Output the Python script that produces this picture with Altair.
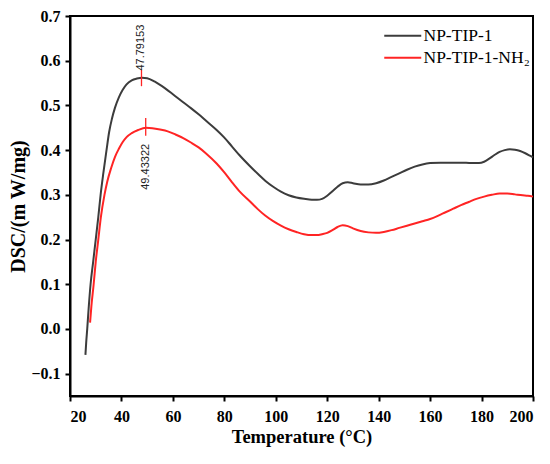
import altair as alt
import pandas as pd

# ---- data ----
t_a = [26.0, 26.3, 26.7, 27.3, 28.0, 29.0, 30.0, 31.0, 31.9, 33.0, 34.2, 35.2, 36.3, 37.5, 39.0, 40.5,
       42.0, 44.0, 46.0, 48.0, 50.0, 53.0, 57.0, 60.0, 64.0, 67.0, 70.0, 73.0, 77.0, 80.0, 83.0, 86.0,
       90.0, 93.0, 96.0, 99.0, 102.0, 105.0, 108.0, 111.0, 114.0, 116.0, 118.0, 120.0, 122.0, 124.0,
       126.0, 128.0, 130.0, 133.0, 136.0, 139.0, 142.0, 145.0, 148.0, 151.0, 154.0, 157.0, 160.0, 164.0,
       168.0, 172.0, 176.0, 179.0, 181.0, 183.0, 185.0, 187.0, 189.0, 191.0, 193.0, 195.0, 197.0, 199.0, 200.0]
v_a = [-0.058, -0.03, 0.0, 0.05, 0.10, 0.15, 0.20, 0.25, 0.30, 0.35, 0.40, 0.44, 0.47, 0.495, 0.518, 0.535,
       0.547, 0.556, 0.560, 0.562, 0.561, 0.553, 0.538, 0.525, 0.507, 0.494, 0.48, 0.465, 0.445, 0.428, 0.408, 0.388,
       0.364, 0.347, 0.331, 0.318, 0.307, 0.299, 0.294, 0.291, 0.289, 0.289, 0.291, 0.298, 0.308, 0.318,
       0.326, 0.328, 0.326, 0.323, 0.323, 0.326, 0.332, 0.340, 0.348, 0.356, 0.363, 0.368, 0.371, 0.372,
       0.372, 0.372, 0.371, 0.371, 0.374, 0.381, 0.389, 0.396, 0.400, 0.402, 0.401, 0.398, 0.393, 0.387, 0.384]

t_b = [27.8, 28.3, 29.2, 30.0, 31.0, 32.0, 33.4, 34.5, 36.0, 37.5, 39.0, 40.5, 42.0, 44.0, 46.5, 49.5,
       52.0, 55.0, 58.0, 61.0, 64.0, 67.0, 70.0, 73.0, 77.0, 80.0, 83.0, 86.0, 90.0, 93.0, 96.0, 99.0,
       102.0, 105.0, 108.0, 111.0, 114.0, 116.0, 118.0, 120.0, 122.0, 124.0, 126.0, 128.0, 130.0, 133.0,
       136.0, 139.0, 142.0, 145.0, 148.0, 151.0, 154.0, 157.0, 160.0, 163.0, 166.0, 169.0, 172.0, 175.0,
       178.0, 181.0, 184.0, 187.0, 190.0, 193.0, 196.0, 198.0, 200.0]
v_b = [0.014, 0.05, 0.10, 0.15, 0.20, 0.25, 0.30, 0.33, 0.36, 0.385, 0.403, 0.418, 0.429, 0.438, 0.445, 0.450,
       0.449, 0.446, 0.442, 0.435, 0.427, 0.417, 0.406, 0.392, 0.370, 0.350, 0.328, 0.307, 0.285, 0.268, 0.253, 0.241,
       0.231, 0.223, 0.217, 0.212, 0.210, 0.210, 0.212, 0.215, 0.221, 0.228, 0.232, 0.230, 0.225, 0.219,
       0.216, 0.215, 0.217, 0.221, 0.226, 0.231, 0.236, 0.241, 0.246, 0.253, 0.261, 0.269, 0.277, 0.284,
       0.291, 0.296, 0.300, 0.303, 0.303, 0.301, 0.299, 0.298, 0.296]

series_names = ["NP-TIP-1", "NP-TIP-1-NH\u2082"]
series_colors = ["#3c3c3c", "#ff2424"]

peak_t = [47.79153, 49.43322]
peak_lo = [0.543, 0.432]
peak_hi = [0.580, 0.472]
peak_label = ["47.79153", "49.43322"]
label_v = [0.578, 0.414]

x_ticks = [20, 40, 60, 80, 100, 120, 140, 160, 180, 200]
y_ticks = [-0.1, 0.0, 0.1, 0.2, 0.3, 0.4, 0.5, 0.6, 0.7]

# ---- tables ----
df = pd.concat([
    pd.DataFrame({"T": t_a, "DSC": v_a, "s": series_names[0], "o": 0}),
    pd.DataFrame({"T": t_b, "DSC": v_b, "s": series_names[1], "o": 1}),
])
peaks = pd.DataFrame({"T": peak_t, "lo": peak_lo, "hi": peak_hi})
lab_top = pd.DataFrame({"T": [peak_t[0]], "v": [label_v[0]], "txt": [peak_label[0]]})
lab_bot = pd.DataFrame({"T": [peak_t[1]], "v": [label_v[1]], "txt": [peak_label[1]]})

xs = alt.Scale(domain=[20, 200], nice=False, zero=False)
ys = alt.Scale(domain=[-0.15, 0.7], nice=False, zero=False)

lines = alt.Chart(df).mark_line(strokeWidth=2, interpolate="monotone").encode(
    x=alt.X("T:Q", scale=xs, title="Temperature (\u00b0C)",
            axis=alt.Axis(values=x_ticks, format="d", labelPadding=7, titlePadding=3,
                          titleFontSize=18.5, titleFontWeight="bold")),
    y=alt.Y("DSC:Q", scale=ys, title="DSC/(m W/mg)",
            axis=alt.Axis(values=y_ticks, format=".1f", labelPadding=5, titlePadding=2,
                          titleFontSize=20, titleFontWeight="bold")),
    color=alt.Color("s:N", scale=alt.Scale(domain=series_names, range=series_colors),
                    legend=alt.Legend(title=None, orient="none", legendX=324, legendY=11,
                                      symbolType="M-2.5,0L2.5,0", symbolSize=219,
                                      symbolStrokeWidth=2, labelOffset=12,
                                      labelFont="Liberation Serif", labelFontSize=17.5,
                                      labelColor="black", rowPadding=3, padding=0)),
    detail="o:N",
)

ticks = alt.Chart(peaks).mark_rule(color="#ff2424", strokeWidth=1.3).encode(
    x="T:Q", y="lo:Q", y2="hi:Q"
)

txt_top = alt.Chart(lab_top).mark_text(angle=270, align="left", baseline="middle",
                                       font="Liberation Sans", fontSize=11, color="#222").encode(
    x="T:Q", y="v:Q", text="txt:N")
txt_bot = alt.Chart(lab_bot).mark_text(angle=270, align="right", baseline="middle",
                                       font="Liberation Sans", fontSize=11, color="#222").encode(
    x="T:Q", y="v:Q", text="txt:N")

chart = alt.layer(lines, ticks, txt_top, txt_bot).properties(
    width=463, height=380,
    autosize=alt.AutoSizeParams(type="none"),
    padding={"left": 62, "top": 8, "right": 9, "bottom": 60},
).configure_view(
    stroke="black", strokeWidth=2
).configure_axis(
    grid=False, domainColor="black", domainWidth=2, tickColor="black", tickWidth=2, tickSize=5,
    labelFont="Liberation Serif", labelFontWeight="bold", labelFontSize=16, labelColor="black",
    titleFont="Liberation Serif", titleColor="black",
)

chart.save("out.html", embed_options={"renderer": "svg", "actions": False})
